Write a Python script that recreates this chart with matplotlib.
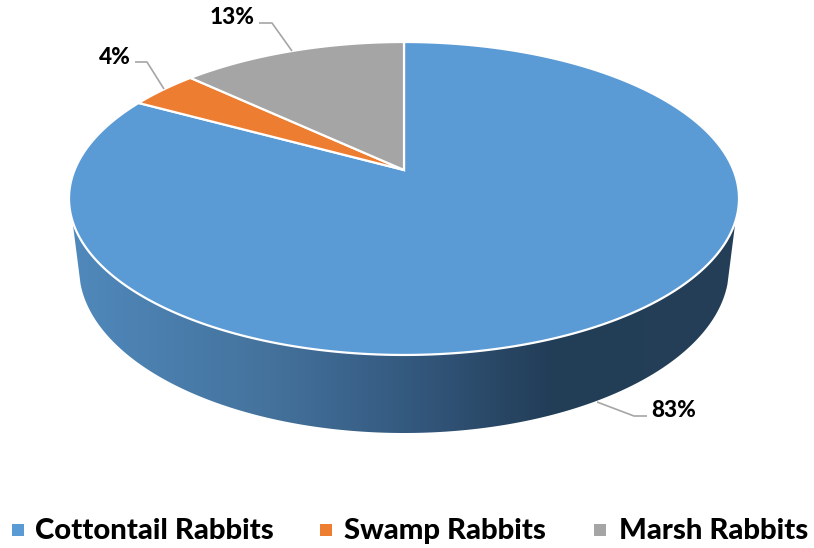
import numpy as np
import matplotlib
matplotlib.use("Agg")
import matplotlib.pyplot as plt
from matplotlib.colors import LinearSegmentedColormap
from matplotlib.patches import Polygon

# --- data ---
categories = ["Cottontail Rabbits", "Swamp Rabbits", "Marsh Rabbits"]
values = [83, 4, 13]
colors = ["#5B9BD5", "#ED7D31", "#A5A5A5"]

W, H = 814, 548
fig = plt.figure(figsize=(W / 100, H / 100), dpi=100)
ax = fig.add_axes([0, 0, 1, 1])
ax.set_xlim(0, W)
ax.set_ylim(H, 0)
ax.axis("off")

# perspective projection of the pie disc
CX, CY, A, B, K = 404, 170, 329.4, 151.3, 0.182


def rim(theta):
    u, v = np.sin(theta), np.cos(theta)
    d = 1 + K * v
    return CX + A * u / d, CY - B * v / d


# side wall
v0 = -0.3176
t0 = np.arccos(v0)
ts = np.linspace(t0, 2 * np.pi - t0, 300)
tx, ty = rim(ts)
bs = np.linspace(np.pi - np.arcsin(16 / 165), np.arcsin(16 / 165), 300)
bx = 404 + 325 * np.cos(bs)
by = 268 + 165 * np.sin(bs)
side = np.column_stack([np.r_[tx, bx], np.r_[ty, by]])
side_poly = Polygon(side, closed=True, fc="none", ec="none", transform=ax.transData)
ax.add_patch(side_poly)
cmap = LinearSegmentedColormap.from_list(
    "side",
    [(0.0, "#5089BC"), (0.30, "#44729C"), (0.50, "#355A80"), (0.72, "#223D57"), (1.0, "#243F56")],
)
im = ax.imshow(
    np.linspace(0, 1, 512)[None, :],
    extent=[70, 738, 440, 215],
    cmap=cmap,
    aspect="auto",
    zorder=1,
    interpolation="bilinear",
)
im.set_clip_path(side_poly)
ax.set_xlim(0, W)
ax.set_ylim(H, 0)

# top face
start = 0.0
total = sum(values)
for val, col in zip(values, colors):
    end = start + val / total * 2 * np.pi
    th = np.linspace(start, end, 400)
    x, y = rim(th)
    ax.fill(np.r_[CX, x], np.r_[CY, y], fc=col, ec="white", lw=1.6, joinstyle="miter", zorder=2)
    start = end

# leader lines and labels
leaders = [
    ([597, 634, 647], [402, 416, 416]),
    ([164, 147, 135], [89, 62, 62]),
    ([292, 272, 259], [51, 23, 23]),
]
anchors = [(651, 417, "left"), (131, 64, "right"), (255, 24, "right")]
for val, (lx, ly), (ax_, ay_, ha) in zip(values, leaders, anchors):
    ax.plot(lx, ly, color="#A6A6A6", lw=1.2, zorder=3, solid_capstyle="butt")
    ax.text(ax_, ay_, f"{val}%", ha=ha, va="baseline", fontsize=16.2,
            fontweight=900, family="Lato", color="black", zorder=4)

# legend
leg_sq = [12, 320, 594]
leg_tx = [35, 344, 619]
for name, col, sx, tx_ in zip(categories, colors, leg_sq, leg_tx):
    ax.add_patch(plt.Rectangle((sx, 524), 12, 12, fc=col, ec="none", zorder=3))
    ax.text(tx_, 539, name, ha="left", va="baseline", fontsize=21.1,
            fontweight=900, family="Lato", color="black")

fig.savefig("out.png", dpi=100)
